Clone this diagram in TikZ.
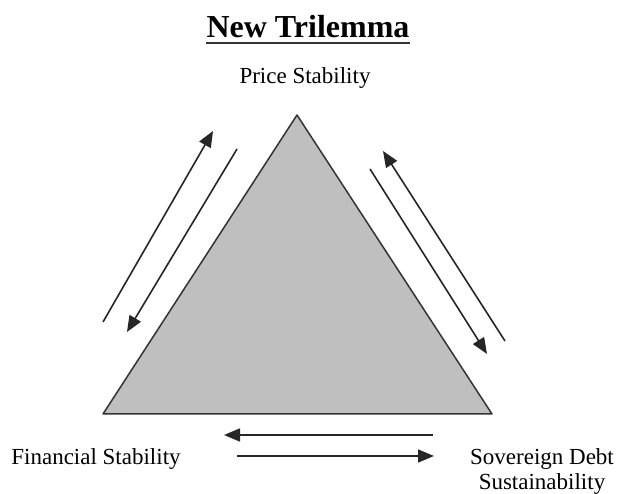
\documentclass[tikz,border=0pt]{standalone}
\usepackage{fontspec}
\setmainfont{Liberation Serif}
\usetikzlibrary{arrows.meta}
\begin{document}
\begin{tikzpicture}[x=1pt,y=-1pt,
  lbl/.style={inner sep=0pt,anchor=base,font=\fontsize{23}{25}\selectfont},
  arr/.style={line width=1.6pt,draw=black!85,-{Triangle[length=16pt,width=13pt]}},
  tri/.style={fill=black!25,draw=black!80,line width=1.5pt,line join=round}]
\useasboundingbox (0,0) rectangle (622,494);
% title
\node[lbl,font=\fontsize{32}{34}\selectfont\bfseries] (title) at (308,38) {New Trilemma};
\draw[line width=2pt,black!80] ([yshift=-5pt]title.base west) -- ([yshift=-5pt]title.base east);
% triangle
\coordinate (A) at (297,115);
\coordinate (B) at (103,414);
\coordinate (C) at (492,414);
\draw[tri] (A) -- (B) -- (C) -- cycle;
% labels
\node[lbl] (ps) at (305,84) {Price Stability};
\node[lbl] (fs) at (96,465) {Financial Stability};
\node[lbl] (sd) at (542,465) {Sovereign Debt};
\node[lbl] (su) at (542,490) {Sustainability};
% arrow end points
\coordinate (l1s) at (103,322); \coordinate (l1e) at (213,131);
\coordinate (l2s) at (237,149); \coordinate (l2e) at (127,332);
\coordinate (r1s) at (505,341); \coordinate (r1e) at (383,151);
\coordinate (r2s) at (370,169); \coordinate (r2e) at (487,354);
\coordinate (b1s) at (433,435); \coordinate (b1e) at (224,435);
\coordinate (b2s) at (237,456); \coordinate (b2e) at (434,456);
\draw[arr] (l1s) -- (l1e);
\draw[arr] (l2s) -- (l2e);
\draw[arr] (r1s) -- (r1e);
\draw[arr] (r2s) -- (r2e);
\draw[arr] (b1s) -- (b1e);
\draw[arr] (b2s) -- (b2e);
\end{tikzpicture}
\end{document}
